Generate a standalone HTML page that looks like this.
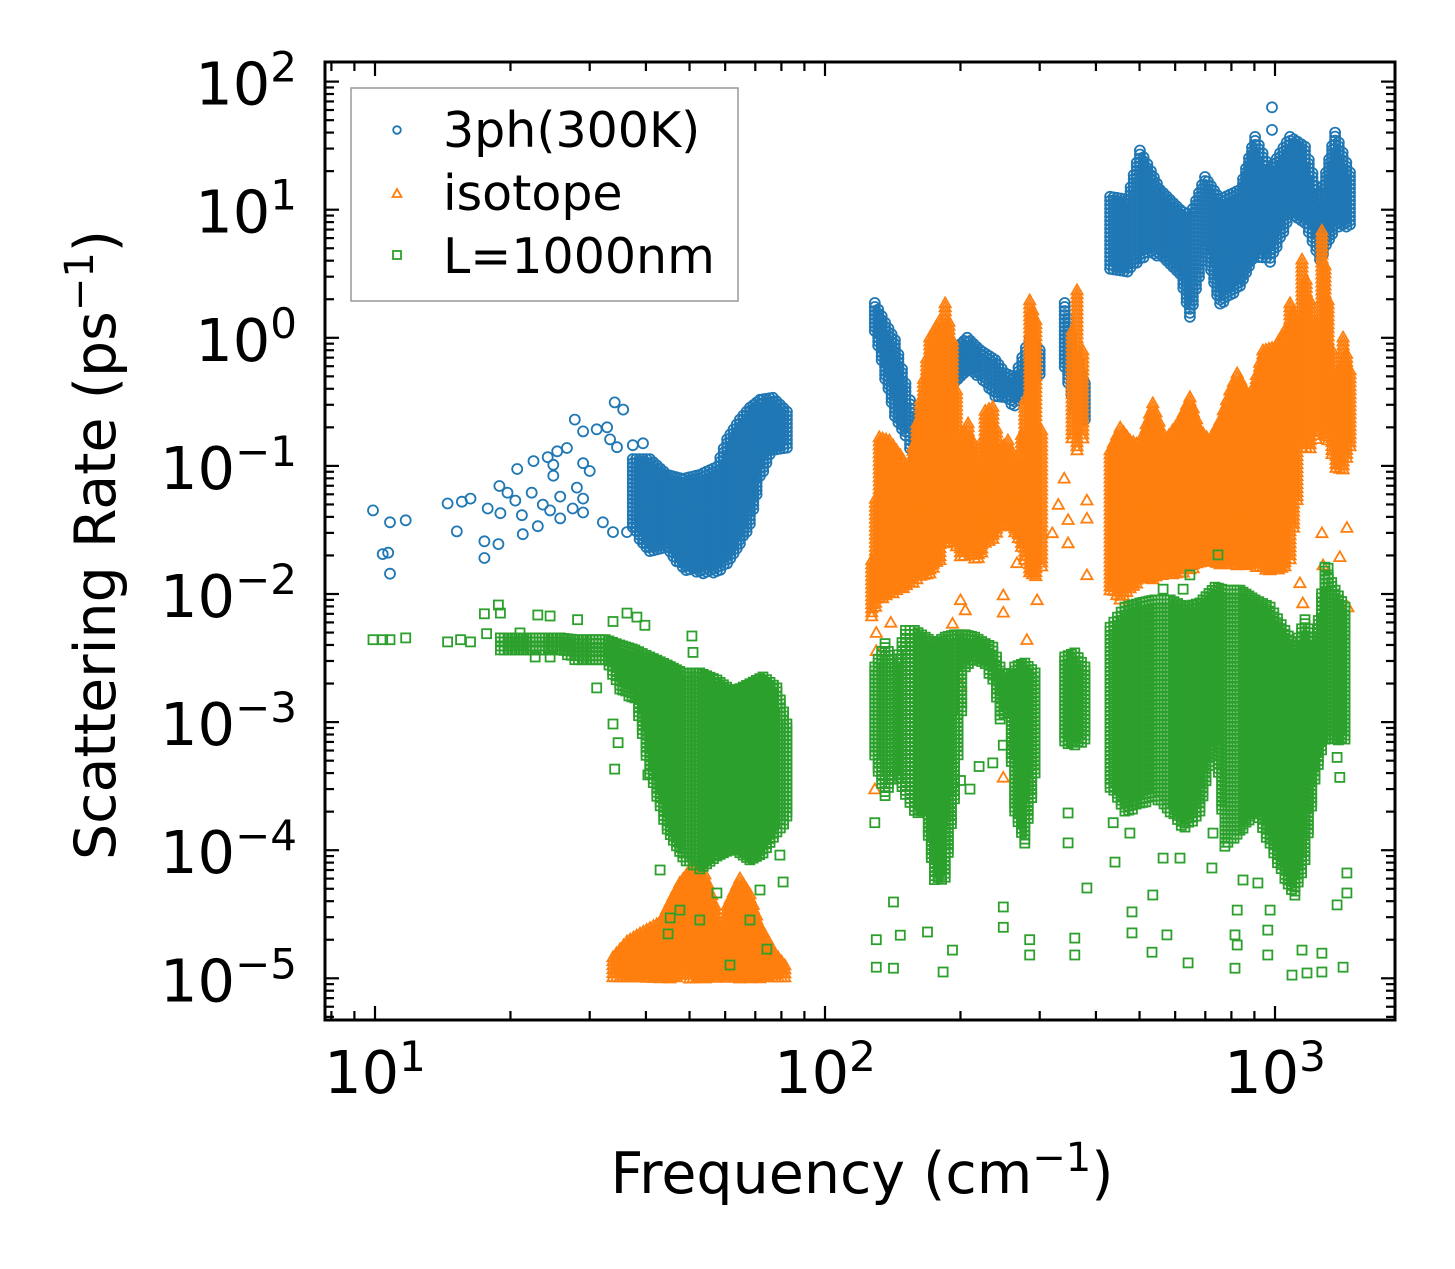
<!DOCTYPE html>
<html><head><meta charset="utf-8"><style>
html,body{margin:0;padding:0;background:#fff;}
svg{display:block;font-family:"DejaVu Sans","Liberation Sans",sans-serif;}
</style></head><body>
<svg id="chart" width="1455" height="1269" viewBox="0 0 1455 1269" xmlns="http://www.w3.org/2000/svg">
<defs><clipPath id="clip"><rect x="325" y="62" width="1070" height="958"/></clipPath></defs>
<g id="marks" clip-path="url(#clip)"></g>
<rect x="325" y="62" width="1070" height="958" fill="none" stroke="#000" stroke-width="3"/>
<g id="ticks"></g>
<g id="labels" font-size="59" fill="#000"></g>
<text x="862" y="1193" font-size="57" text-anchor="middle">Frequency (cm<tspan font-size="40" dy="-22">−1</tspan><tspan dy="22">)</tspan></text>
<text transform="translate(115,545) rotate(-90)" font-size="57" text-anchor="middle">Scattering Rate (ps<tspan font-size="40" dy="-22">−1</tspan><tspan dy="22">)</tspan></text>
<g>
<rect x="351" y="88" width="387" height="213" fill="#fff" stroke="#999" stroke-width="1.5"/>
<circle cx="397" cy="130" r="3.8" fill="none" stroke="#1f77b4" stroke-width="1.8"/>
<text x="443" y="147" font-size="49">3ph(300K)</text>
<polygon points="397,189 401.5,197 392.5,197" fill="none" stroke="#ff7f0e" stroke-width="1.8"/>
<text x="443" y="210" font-size="49">isotope</text>
<rect x="393" y="251" width="8" height="8" fill="none" stroke="#2ca02c" stroke-width="1.8"/>
<text x="443" y="273" font-size="49">L=1000nm</text>
</g>
</svg>
<script>
// ---- data (frequency in cm^-1, rate in ps^-1) ----
const xTickLabels = ["1","2","3"];
const yTickLabels = ["2","1","0","−1","−2","−3","−4","−5"];

// 3ph (blue) dense bands: frequency, upper and lower rate envelope
const blueLowFreq = [37.4,40.8,44.6,48.3,52.7,57.5,60.6,64.7,68.1,71.7,76.6,82.3];
const blueLowHi = [0.113,0.113,0.0851,0.0792,0.0851,0.098,0.161,0.230,0.284,0.328,0.340,0.265];
const blueLowLo = [0.0314,0.0205,0.0220,0.0155,0.0144,0.0144,0.0167,0.0236,0.0338,0.0792,0.130,0.130];
const blueMidFreq = [129,136,143,151,158,167,180,194,207,221,239,251,264,285,300,341,359,378];
const blueMidHi = [1.87,1.31,0.96,0.44,0.24,0.27,0.71,0.80,1.0,0.80,0.67,0.53,0.49,1.0,0.80,1.87,0.80,0.44];
const blueMidLo = [1.1,0.47,0.24,0.17,0.098,0.117,0.216,0.44,0.56,0.49,0.34,0.33,0.29,0.39,0.49,0.56,0.27,0.23];
const blueHighFreq = [430,470,501,530,555,615,647,699,755,836,903,975,1080,1166,1259,1360,1468];
const blueHighHi = [12.6,12,29,20,14.3,10,8.8,18,12,14.3,37,20.5,37,31,12,40,19.5];
const blueHighLo = [3.4,3.2,4.1,4.5,4.3,3.0,1.4,4.9,1.75,2.5,4.3,3.85,8.8,7.9,3.85,7.3,7.3];
// 3ph scattered points
const blueScatFreq = [9.9,10.8,11.7,10.4,10.7,10.8,14.5,15.6,16.3,15.2,17.8,17.5,18.8,17.5,19.0,20.7,21.2,21.3,18.9,19.7,20.5,22.3,22.5,24.2,25.4,26.7,24.9,24.9,25.8,25.8,23.6,24.5,23.0,27.8,29.0,31.1,32.8,34.1,35.6,28.1,29.0,27.5,29.0,32.1,33.8,36.3,29.0,30.0,33.3,34.5,37.4,39.4,985,985];
const blueScatRate = [0.0449,0.0363,0.0376,0.0205,0.0210,0.0144,0.0509,0.0525,0.0556,0.0308,0.0465,0.0258,0.0245,0.0191,0.0427,0.0946,0.0412,0.0293,0.0697,0.0618,0.0536,0.0618,0.109,0.117,0.130,0.138,0.102,0.0838,0.0576,0.0389,0.0499,0.0449,0.0338,0.230,0.186,0.193,0.200,0.313,0.275,0.0677,0.0556,0.0465,0.0433,0.0363,0.0304,0.0304,0.105,0.0913,0.161,0.140,0.145,0.150,63,42];

// isotope (orange)
const orangeLowFreq = [33.8,36.3,38.8,43.0,47.6,50.9,54.1,57.0,58.4,60.6,64.7,68.1,71.7,77.4,81.4];
const orangeLowHi = [1.47e-5,1.95e-5,2.25e-5,2.75e-5,5.6e-5,7.5e-5,6.5e-5,3.7e-5,2.25e-5,3.7e-5,6.05e-5,4.55e-5,2.56e-5,1.57e-5,1.27e-5];
const orangeLowLo = [1e-5,1e-5,1e-5,1e-5,1e-5,1e-5,1e-5,1e-5,1e-5,1e-5,1e-5,1e-5,1e-5,1e-5,1e-5];
const orangeHighFreq = [127,132,139,147,154,163,171,180,185,192,200,208,219,227,236,245,255,269,278,285,294,303,354,363,374,430,453,476,501,535,570,615,647,681,717,755,794,824,880,940,1000,1052,1080,1119,1148,1197,1234,1271,1312,1367,1417,1468];
const orangeHighHi = [0.0184,0.168,0.159,0.122,0.093,0.33,1.01,1.38,1.87,0.96,0.159,0.216,0.093,0.27,0.29,0.133,0.159,0.093,0.33,1.97,1.38,0.19,1.15,2.36,0.80,0.133,0.20,0.159,0.146,0.31,0.159,0.228,0.345,0.19,0.159,0.228,0.39,0.53,0.33,0.80,0.85,1.15,1.87,1.38,4.1,1.97,1.31,6.9,1.97,0.33,1.01,0.56];
const orangeHighLo = [0.0063,0.009,0.0098,0.0107,0.0117,0.0136,0.0141,0.0184,0.0242,0.0264,0.0184,0.0202,0.0184,0.0242,0.0264,0.0316,0.0346,0.0264,0.0184,0.0141,0.0129,0.0154,0.159,0.133,0.159,0.0107,0.009,0.0107,0.0129,0.0129,0.0141,0.0141,0.0154,0.0168,0.0175,0.0168,0.0168,0.0168,0.0168,0.0154,0.0154,0.0154,0.0184,0.054,0.133,0.133,0.159,0.19,0.159,0.093,0.093,0.133];
const orangeScatFreq = [249,249,200,205,192,281,296,267,285,347,347,382,382,382,200,249,129,130,1153,1279,1393,1445,1452,1271,1136,975,1026,130,140,320,330,340,1330,1400];
const orangeScatRate = [0.0098,0.0072,0.009,0.0075,0.0059,0.0044,0.009,0.0175,0.0184,0.038,0.025,0.054,0.039,0.0141,0.0019,0.00037,0.0003,0.0036,0.0085,0.0168,0.0195,0.033,0.0079,0.030,0.0122,0.0154,0.025,0.0050,0.0060,0.03,0.05,0.08,0.0060,0.0050];

// boundary L=1000nm (green)
const greenLowFreq = [19.0,20.5,22.1,23.9,25.8,27.8,30.0,32.5,35.0,37.8,40.8,44.6,48.3,52.7,57.5,62.5,68.1,72.8,78.2,82.3];
const greenLowHi = [0.00454,0.00454,0.00454,0.00454,0.00454,0.0044,0.0044,0.0044,0.0040,0.00366,0.00322,0.00279,0.00242,0.00242,0.00213,0.00172,0.00199,0.00225,0.00185,0.000966];
const greenLowLo = [0.00353,0.00353,0.00353,0.00353,0.00353,0.00306,0.00306,0.00306,0.00178,0.00149,0.000387,0.000141,0.0000839,0.00007,0.000084,0.0001,0.0000807,0.0000916,0.000132,0.000175];
const greenHighFreq = [129,136,143,151,158,167,175,185,194,205,215,227,236,245,255,264,278,293,341,359,378,430,464,501,541,585,631,681,736,774,836,903,975,1052,1107,1166,1227,1291,1360,1431];
const greenHighHi = [0.00269,0.0041,0.00269,0.0052,0.0052,0.0046,0.0041,0.0046,0.0048,0.0048,0.0046,0.0041,0.00385,0.00269,0.00213,0.00269,0.00289,0.00242,0.00322,0.00347,0.00269,0.0055,0.0079,0.0085,0.009,0.009,0.0079,0.0085,0.0113,0.0107,0.0107,0.009,0.0079,0.0052,0.00385,0.0063,0.00385,0.0162,0.0107,0.0079];
const greenHighLo = [0.00053,0.00025,0.0004,0.00026,0.000195,0.000195,0.0000585,0.0000585,0.00025,0.00269,0.00306,0.00269,0.00213,0.00104,0.00118,0.000195,0.000106,0.0004,0.00069,0.00064,0.00072,0.00031,0.000195,0.00022,0.00026,0.000195,0.000144,0.000195,0.00072,0.000106,0.000136,0.000195,0.000106,0.0000585,0.000043,0.000079,0.00035,0.00072,0.00072,0.00072];
const greenScatFreq = [9.9,10.4,10.8,11.7,14.5,15.5,16.3,17.5,18.8,19.0,17.7,21.0,23.0,24.5,22.7,24.5,28.2,33.8,36.3,38.2,39.8,50.6,50.9,31.1,33.8,34.7,34.1,40.4,44.8,45.3,57.5,61.5,74.3,80.7,79.4,43,52.7,68.1,71.7,47.6,
 129,130,142,147,142,130,183,192,169,249,249,236,249,285,285,359,359,382,347,347,441,481,481,535,533,575,641,724,815,815,964,964,1091,1178,1271,1417,1445,1445,1374,1271,1148,916,849,1374,1393,1312,747,647,564,625,437,476,564,615,728,824,824,975,200,210,220];
const greenScatRate = [0.0044,0.0044,0.0044,0.00454,0.00423,0.0044,0.00423,0.0070,0.0082,0.0071,0.0049,0.00497,0.00686,0.00673,0.00322,0.00322,0.0063,0.0061,0.0071,0.0066,0.0057,0.0047,0.0035,0.00185,0.000966,0.00069,0.00043,0.000387,0.0000222,0.0000296,0.0000463,0.0000127,0.0000169,0.0000565,0.0000916,0.00007,0.0000285,0.0000285,0.0000489,0.0000341,
 0.000164,0.00002,0.0000394,0.0000217,0.000012,0.0000122,0.0000112,0.0000166,0.000023,0.000036,0.000025,0.00048,0.00066,0.0000152,0.00002,0.0000152,0.0000206,0.0000507,0.000114,0.000195,0.0000807,0.000033,0.0000226,0.0000447,0.000016,0.0000218,0.0000132,0.0000726,0.0000218,0.000012,0.0000152,0.0000238,0.0000106,0.000011,0.0000112,0.0000122,0.0000664,0.0000463,0.0000374,0.0000157,0.0000166,0.0000555,0.0000585,0.00053,0.00037,0.0159,0.0202,0.0141,0.0109,0.0109,0.000164,0.000136,0.0000867,0.0000867,0.000136,0.0000341,0.0000182,0.0000341,0.00035,0.0003,0.00045];

// ---- axis functions ----
const NS = "http://www.w3.org/2000/svg";
function xs(f){ return 375 + 450*(Math.log10(f) - 1); }
function ys(r){ return 81.6 + 128.1*(2 - Math.log10(r)); }
const marks = document.getElementById('marks');
const BLUE = '#1f77b4', ORANGE = '#ff7f0e', GREEN = '#2ca02c';

function mk(tag, attrs){ const e = document.createElementNS(NS, tag); for (const k in attrs) e.setAttribute(k, attrs[k]); return e; }

function marker(kind, x, y, parent){
  let el;
  if (kind === 'circle') {
    el = mk('circle', {cx:x.toFixed(1), cy:y.toFixed(1), r:5, fill:'none', stroke:BLUE, 'stroke-width':1.8});
    
    
  } else if (kind === 'tri') {
    el = mk('polygon', {points:`${x.toFixed(1)},${(y-5.5).toFixed(1)} ${(x+5.6).toFixed(1)},${(y+4.3).toFixed(1)} ${(x-5.6).toFixed(1)},${(y+4.3).toFixed(1)}`, fill:'none', stroke:ORANGE, 'stroke-width':1.8});
    
    
  } else {
    el = mk('rect', {x:(x-4.5).toFixed(1), y:(y-4.5).toFixed(1), width:9, height:9, fill:'none', stroke:GREEN, 'stroke-width':1.8});
    
    
  }
  parent.appendChild(el);
}

function column(kind, x, hi, lo, g){
  const yt = ys(hi), yb = ys(lo);
  for (let y = yt; y <= yb + 0.01; y += 4) marker(kind, x, y, g);
  if (yb - yt < 4) marker(kind, x, yb, g);
}

function band(kind, freq, hi, lo, g){
  for (let i = 0; i < freq.length; i++) {
    const x0 = xs(freq[i]);
    column(kind, x0, hi[i], lo[i], g);
    if (i + 1 < freq.length) {
      const x1 = xs(freq[i+1]);
      if (x1 - x0 <= 22) {
        const n = Math.floor((x1 - x0) / 3);
        for (let k = 1; k < n; k++) {
          const t = k / n;
          const h = Math.pow(10, Math.log10(hi[i])*(1-t) + Math.log10(hi[i+1])*t);
          const l = Math.pow(10, Math.log10(lo[i])*(1-t) + Math.log10(lo[i+1])*t);
          column(kind, x0 + (x1-x0)*t, h, l, g);
        }
      }
    }
  }
}
function scatter(kind, freq, rate, g){
  for (let i = 0; i < freq.length; i++) marker(kind, xs(freq[i]), ys(rate[i]), g);
}

const gBlue = mk('g', {});


marks.appendChild(gBlue);
band('circle', blueLowFreq, blueLowHi, blueLowLo, gBlue);
band('circle', blueMidFreq, blueMidHi, blueMidLo, gBlue);
band('circle', blueHighFreq, blueHighHi, blueHighLo, gBlue);
scatter('circle', blueScatFreq, blueScatRate, gBlue);

const gOr = mk('g', {});


marks.appendChild(gOr);
band('tri', orangeLowFreq, orangeLowHi, orangeLowLo, gOr);
band('tri', orangeHighFreq, orangeHighHi, orangeHighLo, gOr);
scatter('tri', orangeScatFreq, orangeScatRate, gOr);

const gGr = mk('g', {});


marks.appendChild(gGr);
band('sq', greenLowFreq, greenLowHi, greenLowLo, gGr);
band('sq', greenHighFreq, greenHighHi, greenHighLo, gGr);
scatter('sq', greenScatFreq, greenScatRate, gGr);

// ---- ticks ----
const ticks = document.getElementById('ticks');
const labels = document.getElementById('labels');
function line(x1,y1,x2,y2,name){
  const l = mk('line', {x1:x1, y1:y1, x2:x2, y2:y2, stroke:'#000', 'stroke-width':2.2});
  
  
  ticks.appendChild(l);
}
for (let d = 0; d <= 3; d++) {
  for (let m = 1; m <= 9; m++) {
    const f = Math.pow(10, d) * m;
    const x = xs(f);
    if (x < 326 || x > 1394) continue;
    const len = m === 1 ? 14 : 9;
    line(x, 1020, x, 1020 - len, m === 1 ? 'x-major-tick' : 'x-minor-tick');
    line(x, 62, x, 62 + len, m === 1 ? 'x-major-tick-top' : 'x-minor-tick-top');
  }
}
for (let d = -6; d <= 2; d++) {
  for (let m = 1; m <= 9; m++) {
    const r = Math.pow(10, d) * m;
    const y = ys(r);
    if (y < 63 || y > 1019) continue;
    const len = m === 1 ? 14 : 9;
    line(325, y, 325 + len, y, m === 1 ? 'y-major-tick' : 'y-minor-tick');
    line(1395, y, 1395 - len, y, m === 1 ? 'y-major-tick-right' : 'y-minor-tick-right');
  }
}
xTickLabels.forEach((p) => {
  const x = xs(Math.pow(10, +p));
  const t = mk('text', {x:x, y:1093, 'text-anchor':'middle'});
  
  
  t.innerHTML = `10<tspan font-size="42" dy="-22">${p}</tspan>`;
  labels.appendChild(t);
});
yTickLabels.forEach((p) => {
  const v = +p.replace('−','-');
  const y = ys(Math.pow(10, v));
  const t = mk('text', {x:297, y:y + 23, 'text-anchor':'end'});
  
  
  t.innerHTML = `10<tspan font-size="42" dy="-23">${p}</tspan>`;
  labels.appendChild(t);
});
</script>
</body></html>
